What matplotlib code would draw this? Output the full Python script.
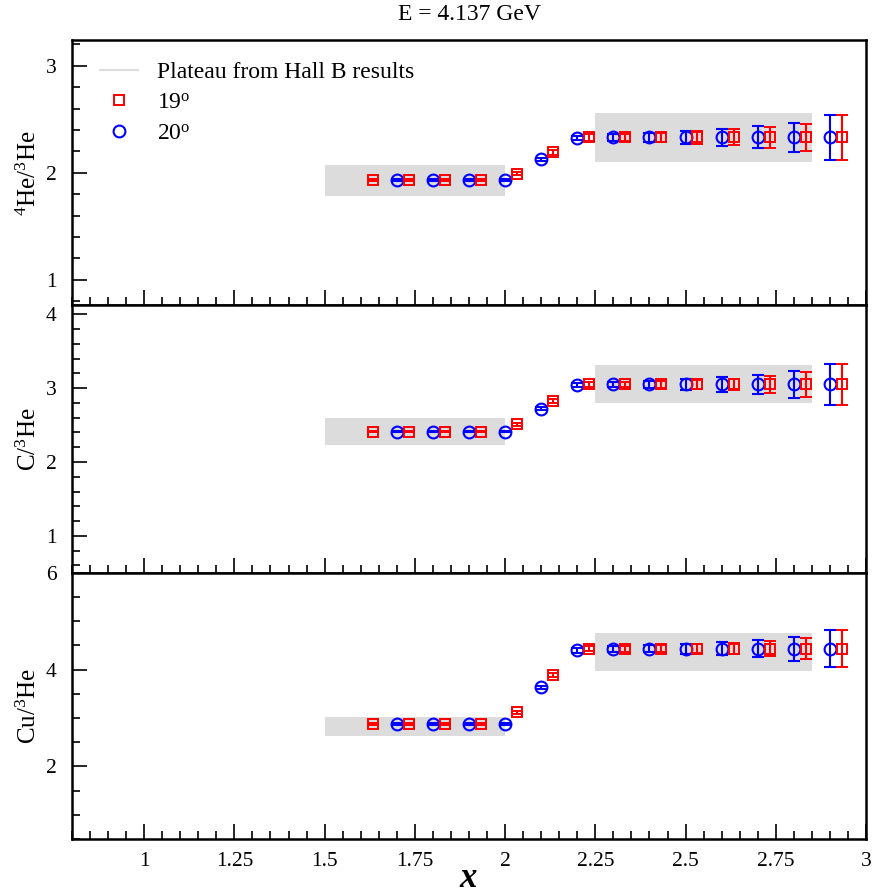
import matplotlib
matplotlib.use("Agg")
import matplotlib.pyplot as plt
from matplotlib.ticker import MultipleLocator, FixedLocator
from matplotlib.lines import Line2D

plt.rcParams['font.family'] = ['Liberation Serif', 'DejaVu Serif']
plt.rcParams['mathtext.fontset'] = 'custom'
plt.rcParams['mathtext.rm'] = 'Liberation Serif'
plt.rcParams['mathtext.it'] = 'Liberation Serif:italic'

# ---- data ----
x19 = [1.633, 1.733, 1.833, 1.933, 2.033, 2.133, 2.233, 2.333, 2.433, 2.533, 2.633, 2.733, 2.833, 2.933]
x20 = [1.7, 1.8, 1.9, 2.0, 2.1, 2.2, 2.3, 2.4, 2.5, 2.6, 2.7, 2.8, 2.9]

he4_19 = [1.93, 1.93, 1.93, 1.93, 1.99, 2.19, 2.33, 2.33, 2.33, 2.33, 2.33, 2.33, 2.33, 2.33]
he4_19_err = [0.01, 0.01, 0.01, 0.01, 0.015, 0.02, 0.03, 0.035, 0.04, 0.06, 0.075, 0.095, 0.125, 0.21]
he4_20 = [1.93, 1.93, 1.93, 1.93, 2.125, 2.325, 2.33, 2.33, 2.33, 2.33, 2.33, 2.33, 2.33]
he4_20_err = [0.01, 0.01, 0.01, 0.01, 0.015, 0.02, 0.03, 0.04, 0.063, 0.078, 0.103, 0.137, 0.21]

c_19 = [2.41, 2.41, 2.41, 2.41, 2.51, 2.83, 3.05, 3.05, 3.05, 3.05, 3.05, 3.05, 3.05, 3.05]
c_19_err = [0.01, 0.01, 0.01, 0.01, 0.02, 0.025, 0.03, 0.035, 0.045, 0.06, 0.08, 0.115, 0.165, 0.275]
c_20 = [2.41, 2.41, 2.41, 2.41, 2.72, 3.04, 3.05, 3.05, 3.05, 3.05, 3.05, 3.05, 3.05]
c_20_err = [0.01, 0.01, 0.01, 0.01, 0.02, 0.03, 0.04, 0.05, 0.07, 0.10, 0.13, 0.18, 0.275]

cu_19 = [2.88, 2.88, 2.88, 2.88, 3.12, 3.89, 4.43, 4.43, 4.43, 4.43, 4.43, 4.43, 4.43, 4.43]
cu_19_err = [0.02, 0.02, 0.02, 0.02, 0.03, 0.04, 0.05, 0.06, 0.07, 0.09, 0.11, 0.16, 0.22, 0.38]
cu_20 = [2.88, 2.88, 2.88, 2.88, 3.63, 4.40, 4.43, 4.43, 4.43, 4.43, 4.43, 4.43, 4.43]
cu_20_err = [0.02, 0.02, 0.02, 0.02, 0.03, 0.05, 0.06, 0.07, 0.10, 0.14, 0.18, 0.245, 0.386]

# Hall B plateaus: (x start, x end, center, half-width)
he4_bands = [(1.5, 2.0, 1.925, 0.145), (2.25, 2.85, 2.33, 0.225)]
c_bands = [(1.5, 2.0, 2.41, 0.18), (2.25, 2.85, 3.06, 0.26)]
cu_bands = [(1.5, 2.0, 2.82, 0.20), (2.25, 2.85, 4.37, 0.39)]

panels = [
    dict(ylabel=r'$^{4}$He/$^{3}$He', y19=he4_19, e19=he4_19_err, y20=he4_20, e20=he4_20_err,
         bands=he4_bands, ylim=(0.76, 3.24), major=[1, 2, 3], minor=0.2),
    dict(ylabel=r'C/$^{3}$He', y19=c_19, e19=c_19_err, y20=c_20, e20=c_20_err,
         bands=c_bands, ylim=(0.5, 4.12), major=[1, 2, 3, 4], minor=0.2),
    dict(ylabel=r'Cu/$^{3}$He', y19=cu_19, e19=cu_19_err, y20=cu_20, e20=cu_20_err,
         bands=cu_bands, ylim=(0.5, 6.0), major=[2, 4, 6], minor=0.5),
]

W, H = 873, 896
fig = plt.figure(figsize=(W / 100, H / 100), dpi=100)
left, right = 72 / W, 866 / W
edges = [40, 305.5, 572.7, 839]
band_color = '#dcdcdc'

axes = []
for i, p in enumerate(panels):
    top_px, bot_px = edges[i], edges[i + 1]
    ax = fig.add_axes([left, 1 - bot_px / H, right - left, (bot_px - top_px) / H])
    axes.append(ax)
    for (x0, x1, c, h) in p['bands']:
        ax.fill_between([x0, x1], [c - h, c - h], [c + h, c + h], color=band_color, lw=0, zorder=1)
    ax.errorbar(x20, p['y20'], yerr=p['e20'], fmt='o', mfc='none', mec='blue', ecolor='blue',
                ms=8.5, mew=1.5, elinewidth=1.5, capsize=4, capthick=1.5, zorder=3)
    ax.errorbar(x19, p['y19'], yerr=p['e19'], fmt='s', mfc='none', mec='red', ecolor='red',
                ms=7.5, mew=1.4, elinewidth=1.5, capsize=4, capthick=1.5, zorder=3)
    ax.set_xlim(0.8, 3.0)
    ax.set_ylim(*p['ylim'])
    ax.xaxis.set_major_locator(MultipleLocator(0.25))
    ax.xaxis.set_minor_locator(MultipleLocator(0.05))
    ax.yaxis.set_major_locator(FixedLocator(p['major']))
    ax.yaxis.set_minor_locator(MultipleLocator(p['minor']))
    ax.tick_params(axis='both', which='major', direction='in', length=11, width=1.2,
                   labelsize=15.5, top=False, right=False)
    ax.tick_params(axis='both', which='minor', direction='in', length=5.5, width=1.2,
                   top=False, right=False)
    ax.tick_params(axis='y', pad=11)
    for s in ax.spines.values():
        s.set_linewidth(1.8)
    lab = ax.set_ylabel(p['ylabel'], fontsize=18)
    lab.set_va('center')
    ax.yaxis.set_label_coords(-(72 - 29) / 794, 0.5)
    if i < 2:
        ax.tick_params(axis='x', labelbottom=False)
    else:
        ax.set_xticks([1, 1.25, 1.5, 1.75, 2, 2.25, 2.5, 2.75, 3])
        ax.set_xticklabels(['1', '1.25', '1.5', '1.75', '2', '2.25', '2.5', '2.75', '3'])
        ax.tick_params(axis='x', pad=9)
        xl = ax.set_xlabel('x', fontsize=25, fontweight='bold', fontstyle='italic')
        xl.set_va('center')
        ax.xaxis.set_label_coords((468 - 72) / 794, -(878 - 839) / 266)

handles = [
    Line2D([], [], color=band_color, lw=1.5),
    Line2D([], [], marker='s', ls='none', mfc='none', mec='red', ms=7.5, mew=1.4),
    Line2D([], [], marker='o', ls='none', mfc='none', mec='blue', ms=8.5, mew=1.5),
]
labels = ['Plateau from Hall B results', r'19$^{\mathrm{o}}$', r'20$^{\mathrm{o}}$']
axes[0].legend(handles, labels, loc='upper left', bbox_to_anchor=(0.009, 1.0), frameon=False,
               fontsize=17, handlelength=1.6, handletextpad=0.8, labelspacing=0.4)

fig.text((72 + 866) / 2 / W, 1 - 14 / H, 'E = 4.137 GeV', ha='center', va='center', fontsize=17)

fig.savefig('out.png', dpi=100)
